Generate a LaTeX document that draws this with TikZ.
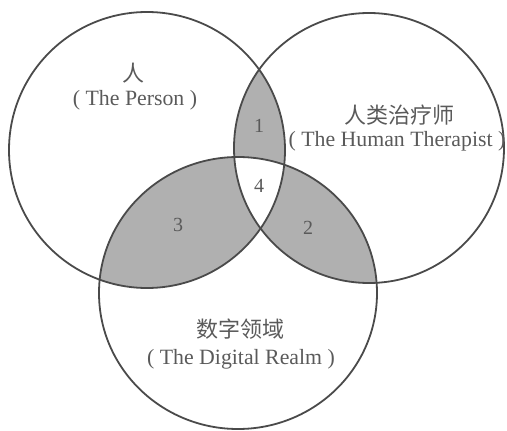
\documentclass[tikz,border=0pt]{standalone}
\usepackage{fontspec}
\setmainfont{Liberation Serif}
\newfontfamily\cjk{Noto Sans CJK SC}
\definecolor{lineC}{HTML}{4A4A4A}
\definecolor{shadeC}{HTML}{B0B0B0}
\definecolor{txtC}{HTML}{5A5A5A}
\begin{document}
\begin{tikzpicture}[x=1pt,y=-1pt,
  lbl/.style={text=txtC, inner sep=0pt, font=\fontsize{21.8}{24}\selectfont},
  zh/.style={text=txtC, inner sep=0pt, font=\cjk\fontsize{22}{24}\selectfont},
  num/.style={text=txtC, inner sep=0pt, font=\fontsize{20}{22}\selectfont},
  ring/.style={draw=lineC, line width=1.8pt}]
\useasboundingbox (0,0) rectangle (507,431);
\def\Lc{(147,150) circle[radius=138]}
\def\Rc{(369,148) circle[radius=135]}
\def\Bc{(238,293) ellipse[x radius=139, y radius=136]}
\begin{scope}
  \clip \Lc;
  \fill[shadeC] \Rc;
  \fill[shadeC] \Bc;
\end{scope}
\begin{scope}
  \clip \Rc;
  \fill[shadeC] \Bc;
\end{scope}
\begin{scope}
  \clip \Lc;
  \clip \Rc;
  \fill[white] \Bc;
\end{scope}
\draw[ring] \Lc;
\draw[ring] \Rc;
\draw[ring] \Bc;
\node[zh] (pz) at (133,73) {人};
\node[lbl] (pe) at (135,100) {( The Person )};
\node[zh] (tz) at (399,115) {人类治疗师};
\node[lbl] (te) at (397,141) {( The Human Therapist )};
\node[zh] (dz) at (240,329) {数字领域};
\node[lbl] (de) at (241,359) {( The Digital Realm )};
\node[num] (n1) at (259,126) {1};
\node[num] (n4) at (259,186) {4};
\node[num] (n3) at (178,225) {3};
\node[num] (n2) at (308,228) {2};
\end{tikzpicture}
\end{document}
